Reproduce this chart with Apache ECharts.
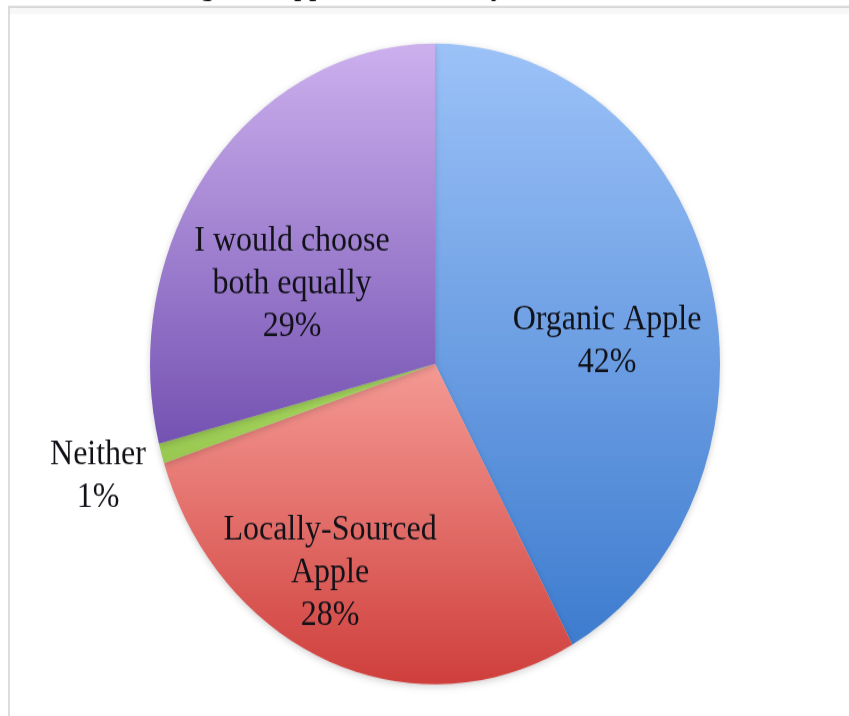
<!DOCTYPE html>
<html>
<head>
<meta charset="utf-8">
<script src="https://cdn.jsdelivr.net/npm/echarts@6/dist/echarts.min.js"></script>
<style>
  html, body { margin: 0; padding: 0; background: #fff; overflow: hidden; }
  #wrap { width: 849px; height: 716px; overflow: hidden; position: relative; }
  #chart { width: 849px; height: 637px; transform: scaleY(1.124); transform-origin: 0 0; }
</style>
</head>
<body>
<div id="wrap"><div id="chart"></div></div>
<script>
// ---- data ----
const categories = ["Organic Apple", "Locally-Sourced Apple", "Neither", "I would choose both equally"];
const values = [42, 28, 1, 29];
const labelText = ["Organic Apple", "Locally-Sourced\nApple", "Neither", "I would choose\nboth equally"];
const titleText = "an Organic Apple, or a Locally";

// ---- styles ----
const SY = 1.124;
const gradients = [
  ["#9cc2f8", "#3e7ccf"],
  ["#f59a94", "#cf3f3c"],
  ["#a8d862", "#98c850"],
  ["#ccb0ee", "#7452b2"]
];
const labelPos = [[607, 341 / SY], [330, 573 / SY], [98, 476 / SY], [292, 284 / SY]];

const chart = echarts.init(document.getElementById('chart'), null, { renderer: 'canvas' });
const font = '"Liberation Serif", "Times New Roman", serif';

chart.setOption({
  animation: false,
  backgroundColor: '#ffffff',
  graphic: [
    { type: 'rect', shape: { x: 8, y: 6 / SY, width: 841, height: 2 / SY }, style: { fill: '#d4d4d4' }, z: 10 },
    { type: 'rect', shape: { x: 8, y: 6 / SY, width: 2, height: 640 }, style: { fill: '#dcdcdc' }, z: 10 },
    { type: 'rect', shape: { x: 10, y: 8 / SY, width: 839, height: 6 / SY }, style: { fill: '#f7f7f7' }, z: 9 },
    { type: 'text', left: 133, top: -31.5 / SY,
      style: { text: titleText, font: '30px ' + font, fill: '#111' }, z: 8 }
  ],
  series: [{
    type: 'pie',
    center: [435, 364 / SY],
    radius: 285,
    startAngle: 90,
    clockwise: true,
    avoidLabelOverlap: false,
    data: categories.map((c, i) => ({
      name: c,
      value: values[i],
      itemStyle: {
        color: new echarts.graphic.LinearGradient(0, 0, 0, 1, [
          { offset: 0, color: gradients[i][0] },
          { offset: 1, color: gradients[i][1] }
        ])
      }
    })),
    itemStyle: { borderWidth: 0, shadowBlur: 6, shadowColor: 'rgba(0,0,0,0.18)', shadowOffsetY: 2 },
    label: {
      show: true,
      position: 'inside',
      formatter: p => labelText[p.dataIndex] + '\n' + p.percent.toFixed(0) + '%',
      fontFamily: font,
      fontSize: 32,
      lineHeight: 38,
      color: '#111118',
      align: 'center'
    },
    labelLine: { show: false },
    labelLayout: function (params) {
      const p = labelPos[params.dataIndex];
      return { x: p[0], y: p[1], align: 'center', verticalAlign: 'middle' };
    },
    emphasis: { disabled: true }
  }]
});
</script>
</body>
</html>
